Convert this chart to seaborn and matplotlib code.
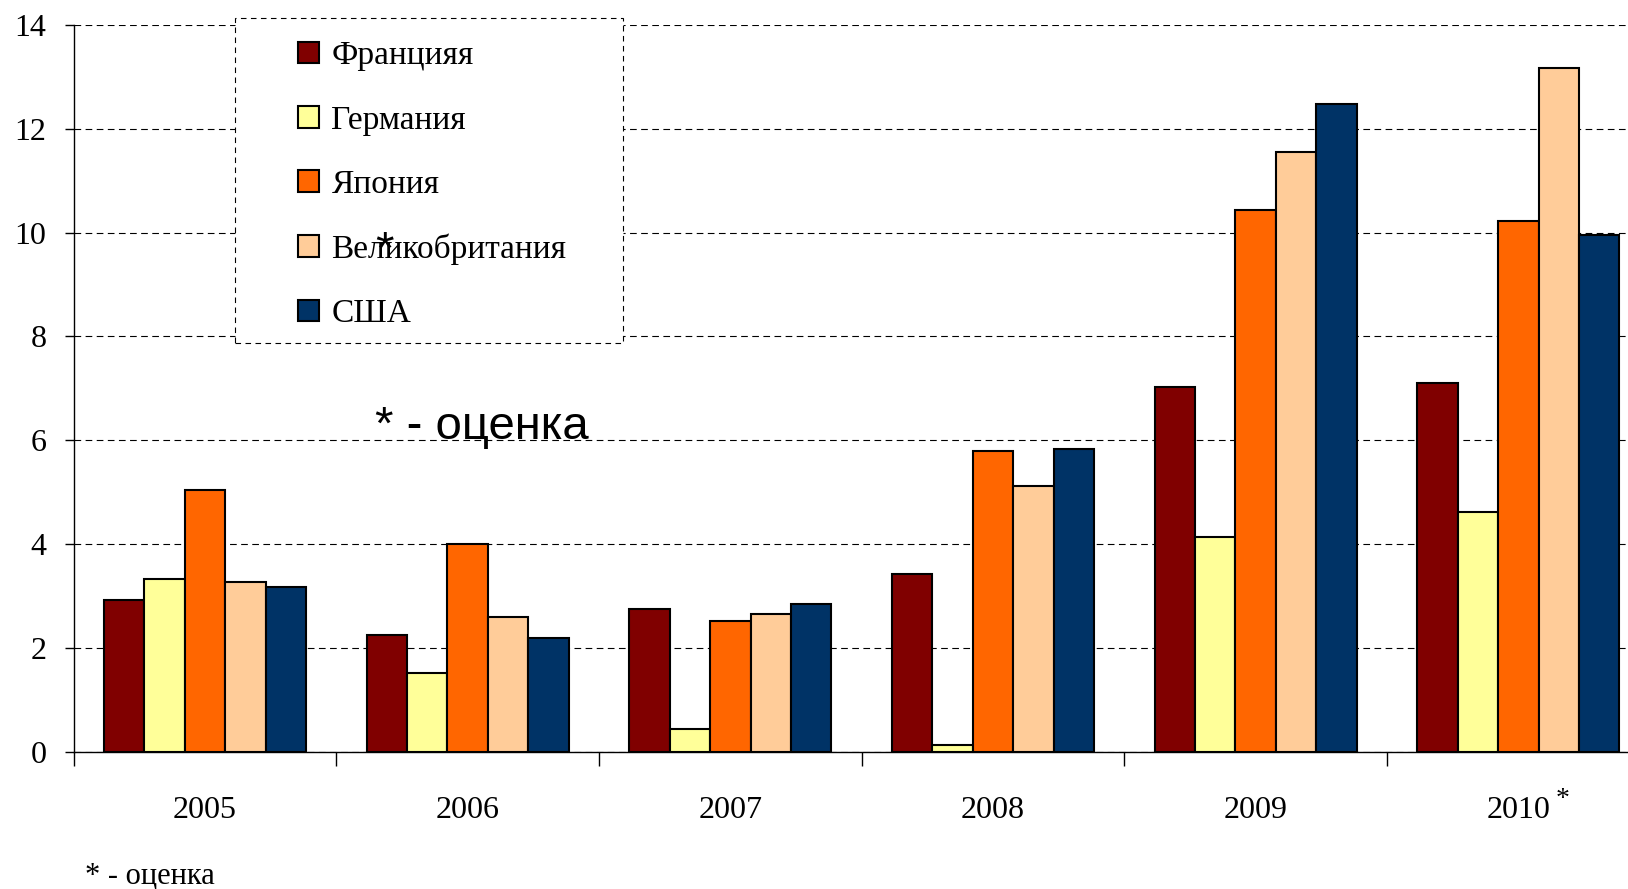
import pandas as pd
import matplotlib
matplotlib.use('Agg')
import matplotlib.pyplot as plt
import seaborn as sns
from matplotlib.patches import Rectangle, Patch

# данные
years = ['2005', '2006', '2007', '2008', '2009', '2010']
countries = ['Францияя', 'Германия', 'Япония', 'Великобритания', 'США']
france = [2.92, 2.24, 2.74, 3.42, 7.02, 7.10]
germany = [3.32, 1.52, 0.44, 0.13, 4.14, 4.62]
japan = [5.04, 4.00, 2.52, 5.80, 10.44, 10.22]
uk = [3.26, 2.60, 2.66, 5.12, 11.56, 13.18]
usa = [3.18, 2.20, 2.84, 5.84, 12.48, 9.95]
colors = ['#800000', '#FFFF99', '#FF6600', '#FFCC99', '#003366']

df = pd.DataFrame({
    'year': years * 5,
    'country': [c for c in countries for _ in years],
    'value': france + germany + japan + uk + usa,
})

sns.set_style('white')
plt.rcParams['font.family'] = ['Liberation Serif', 'DejaVu Serif']
plt.rcParams['text.color'] = 'black'

W, H = 1628, 889
fig = plt.figure(figsize=(W / 100, H / 100), dpi=100)
# ось вылезает за правый край, как в оригинале
ax = fig.add_axes([73.7 / W, 137.3 / H, 1576 / W, 726.7 / H])

sns.barplot(data=df, x='year', y='value', hue='country', palette=colors,
            width=0.77, gap=0, saturation=1, edgecolor='black', linewidth=1.5,
            ax=ax, legend=False)

ax.set_ylim(0, 14)
ax.set_xlim(-0.5, 5.5)
ax.set_yticks(range(0, 15, 2))
ax.set_xticks(range(6))
ax.set_xticklabels(years)
ax.set_xticks([i - 0.5 for i in range(7)], minor=True)
ax.tick_params(axis='y', left=True, length=6.5, width=1, direction='out', pad=13, labelsize=23, colors='black')
ax.tick_params(axis='x', which='major', bottom=True, length=0, pad=32, labelsize=23, colors='black')
ax.tick_params(axis='x', which='minor', bottom=True, length=10, width=1, direction='out', colors='black')
ax.set_xlabel('')
ax.set_ylabel('')

ax.yaxis.grid(True, color='black', linestyle=(0, (6, 4)), linewidth=0.8)
ax.xaxis.grid(False)
ax.set_axisbelow(True)
for s in ['top', 'right']:
    ax.spines[s].set_visible(False)
for s in ['left', 'bottom']:
    ax.spines[s].set_color('black')
    ax.spines[s].set_linewidth(1)

# рамка легенды пунктиром
box = Rectangle((235 / W, 1 - 343 / H), 388 / W, 325 / H, transform=fig.transFigure,
                facecolor='white', edgecolor='black', linestyle=(0, (5, 4)), linewidth=0.8,
                zorder=3, clip_on=False)
ax.add_patch(box)

handles = [Patch(facecolor=c, edgecolor='black', linewidth=1.5) for c in colors]
leg = ax.legend(handles, countries, loc='center left', bbox_to_anchor=(298 / W, 1 - 185 / H),
                bbox_transform=fig.transFigure, frameon=False, fontsize=24,
                handlelength=0.62, handleheight=0.62, handletextpad=0.38,
                labelspacing=1.01, borderpad=0, borderaxespad=0)
leg.set_zorder(4)

# надписи
fig.text(375 / W, 1 - 439 / H, '* - оценка', family='Liberation Sans', fontsize=34,
         va='baseline', ha='left', color='black')
fig.text(375 / W, 1 - 264 / H, '*', family='Liberation Sans', fontsize=34,
         va='baseline', ha='left', color='black', zorder=5)
fig.text(85 / W, 1 - 884 / H, '* - оценка', fontsize=22, va='baseline', ha='left', color='black')
fig.text(1563 / W, 1 - 806 / H, '*', fontsize=20, va='baseline', ha='center', color='black')

fig.savefig('out.png', dpi=100)
